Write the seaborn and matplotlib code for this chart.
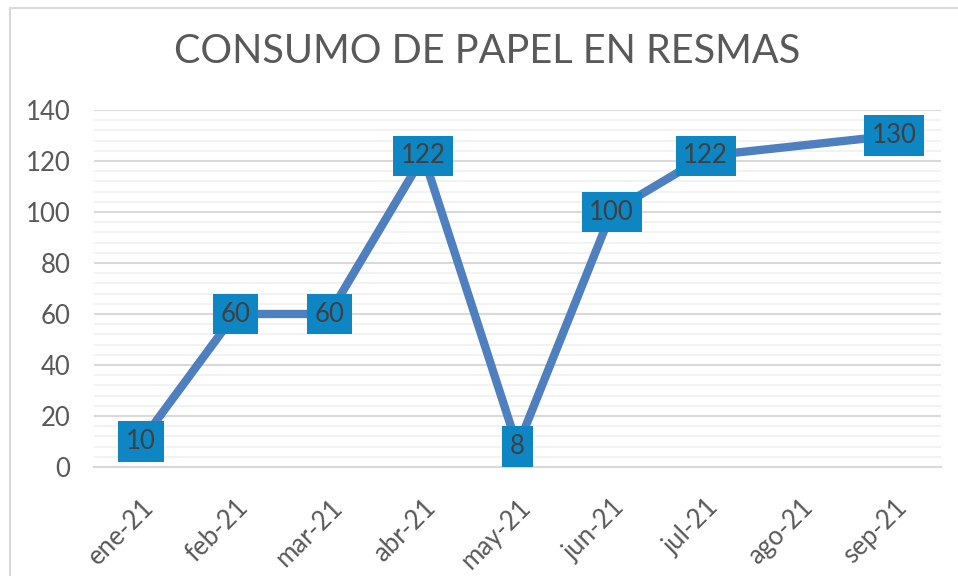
import numpy as np
import pandas as pd
import matplotlib.pyplot as plt
import seaborn as sns
from matplotlib.ticker import MultipleLocator, FixedLocator
from matplotlib.lines import Line2D

meses = ["ene-21", "feb-21", "mar-21", "abr-21", "may-21",
         "jun-21", "jul-21", "ago-21", "sep-21"]
resmas = [10, 60, 60, 122, 8, 100, 122, np.nan, 130]

LINE_COLOR = "#4E7FBE"
BOX_COLOR = "#0E86C4"
TEXT_COLOR = "#595959"
GRID_MAJOR = "#D9D9D9"
GRID_MINOR = "#F0F0F0"

sns.set_style("white")
plt.rcParams["font.family"] = ["Lato", "DejaVu Sans"]

df = pd.DataFrame({"pos": range(len(meses)), "mes": meses, "resmas": resmas})
puntos = df.dropna()

fig = plt.figure(figsize=(9.58, 5.76), dpi=100)
ax = fig.add_axes([94 / 958, 1 - 467 / 576, (941 - 94) / 958, (467 - 110) / 576])

sns.lineplot(data=puntos, x="pos", y="resmas", ax=ax, color=LINE_COLOR,
             linewidth=6, solid_joinstyle="miter", zorder=3)

# data labels centred on the points
for _, row in puntos.iterrows():
    ax.text(row["pos"], row["resmas"], f"{int(row['resmas'])}",
            ha="center", va="center", fontsize=18.5, color="#404040", zorder=5,
            bbox=dict(boxstyle="square,pad=0.3", fc=BOX_COLOR, ec="none"))

ax.set_xlim(-0.5, len(meses) - 0.5)
ax.set_ylim(0, 140)

ax.yaxis.set_major_locator(MultipleLocator(20))
ax.yaxis.set_minor_locator(MultipleLocator(4))
ax.grid(axis="y", which="major", color=GRID_MAJOR, linewidth=1.5, zorder=1)
ax.grid(axis="y", which="minor", color=GRID_MINOR, linewidth=1.2, zorder=0)
ax.set_axisbelow(True)

ax.set_xticks(range(len(meses)))
ax.set_xticklabels(meses, rotation=45, ha="right", rotation_mode="anchor")
ax.xaxis.set_minor_locator(FixedLocator(np.arange(-0.5, len(meses), 1.0)))
ax.tick_params(axis="x", which="major", length=0, pad=20, labelsize=18.5,
               labelcolor=TEXT_COLOR)
ax.tick_params(axis="x", which="minor", length=7, width=1.5, color=GRID_MAJOR)
ax.tick_params(axis="y", which="both", length=0, pad=17, labelsize=18.5,
               labelcolor=TEXT_COLOR)

for side in ["top", "right", "left"]:
    ax.spines[side].set_visible(False)
ax.spines["bottom"].set_color(GRID_MAJOR)
ax.spines["bottom"].set_linewidth(1.5)

ax.set_xlabel("")
ax.set_ylabel("")

fig.text(0.509, 0.91, "CONSUMO DE PAPEL EN RESMAS", ha="center", va="center",
         fontsize=28.5, color=TEXT_COLOR)

# chart area border (only top and left edges visible in the crop)
fig.add_artist(Line2D([10 / 958, 10 / 958, 1.0], [0.0, 1 - 8 / 576, 1 - 8 / 576],
                      transform=fig.transFigure, color=GRID_MAJOR, linewidth=1.5))

fig.savefig("out.png", dpi=100)
